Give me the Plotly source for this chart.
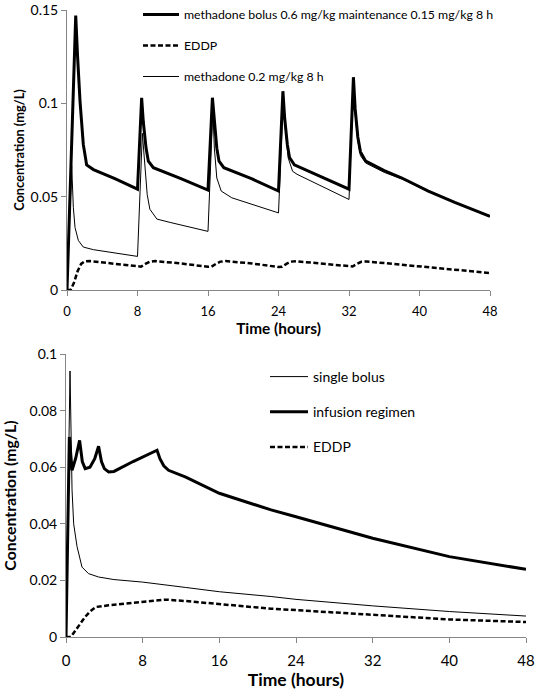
import plotly.graph_objects as go

# ---------- Top panel data (time in hours, concentration in mg/L) ----------
top_bolus_t = [0, 0.99, 1.2, 1.48, 1.85, 2.23, 3.0, 5.5, 8.0,
               8.47, 8.66, 8.97, 9.23, 9.8, 13.0, 16.0,
               16.5, 16.7, 17.0, 17.25, 17.8, 21.0, 24.0,
               24.5, 24.7, 25.0, 25.25, 25.8, 28.8, 32.0,
               32.5, 32.7, 33.0, 33.3, 33.9, 36.0, 38.0, 41.0, 44.0, 48.0]
top_bolus_c = [0, 0.147, 0.125, 0.101, 0.078, 0.067, 0.0645, 0.0595, 0.054,
               0.103, 0.090, 0.076, 0.069, 0.0655, 0.0595, 0.0535,
               0.103, 0.090, 0.076, 0.069, 0.0655, 0.0595, 0.053,
               0.1065, 0.092, 0.078, 0.071, 0.067, 0.0607, 0.054,
               0.114, 0.097, 0.082, 0.074, 0.069, 0.064, 0.060, 0.053, 0.047, 0.0395]

top_eddp_t = [0, 0.4, 0.8, 1.2, 1.6, 2.0, 2.6, 5.0, 8.0,
              8.4, 8.9, 9.4, 10.0, 13.0, 16.0,
              16.4, 16.9, 17.4, 18.0, 21.0, 24.0,
              24.4, 24.9, 25.4, 26.0, 29.0, 32.0,
              32.4, 32.9, 33.4, 34.0, 38.0, 43.0, 48.0]
top_eddp_c = [0, 0, 0.004, 0.010, 0.0140, 0.0153, 0.0155, 0.0143, 0.0124,
              0.0125, 0.0140, 0.0152, 0.0155, 0.0142, 0.0124,
              0.0125, 0.0140, 0.0152, 0.0155, 0.0142, 0.0123,
              0.0125, 0.0140, 0.0152, 0.0154, 0.0141, 0.0124,
              0.0126, 0.0140, 0.0151, 0.0153, 0.0135, 0.0113, 0.0091]

top_maint_t = [0, 0.53, 0.72, 0.91, 1.29, 1.85, 3.0, 8.0,
               8.55, 8.85, 9.1, 9.4, 10.2, 11.7, 16.0,
               16.55, 16.72, 17.0, 17.5, 18.7, 24.0,
               24.55, 24.8, 25.1, 25.6, 26.1, 28.8, 32.0,
               32.5, 32.7, 33.0, 33.3, 33.9, 36.0, 38.0, 41.0, 44.0, 48.0]
top_maint_c = [0, 0.0666, 0.0441, 0.0335, 0.0265, 0.023, 0.0216, 0.018,
               0.0839, 0.0653, 0.0512, 0.0433, 0.038, 0.0362, 0.0314,
               0.097, 0.076, 0.060, 0.053, 0.0494, 0.0413,
               0.104, 0.085, 0.0707, 0.0636, 0.062, 0.0557, 0.0485,
               0.111, 0.094, 0.080, 0.072, 0.068, 0.063, 0.0595, 0.0527, 0.0468, 0.0395]

# ---------- Bottom panel data ----------
bot_single_t = [0, 0.42, 0.63, 0.8, 1.15, 1.67, 2.35, 3.4, 5.0, 8.0, 12.5, 16.0, 21.4, 24.0, 32.0, 40.0, 48.0]
bot_single_c = [0, 0.094, 0.052, 0.040, 0.032, 0.0247, 0.0224, 0.0212, 0.0203, 0.0194, 0.0175, 0.016,
                0.0143, 0.0133, 0.011, 0.009, 0.0074]

bot_infusion_t = [0, 0.35, 0.63, 1.0, 1.42, 1.7, 2.0, 2.5, 3.0, 3.4, 3.7, 4.0, 4.45, 5.0, 7.0, 9.5,
                  9.8, 10.2, 10.7, 12.5, 16.0, 21.4, 24.0, 32.0, 40.0, 48.0]
bot_infusion_c = [0, 0.0707, 0.0589, 0.063, 0.0695, 0.062, 0.0595, 0.060, 0.063, 0.0674, 0.062, 0.0595,
                  0.0583, 0.0585, 0.062, 0.066,
                  0.063, 0.0605, 0.0589, 0.0565, 0.0508, 0.0449, 0.0425, 0.0349, 0.0284, 0.0239]

bot_eddp_t = [0, 0.5, 1.0, 1.5, 2.0, 2.5, 3.1, 4.45, 8.0, 10.4, 12.5, 16.0, 21.4, 24.0, 32.0, 40.0, 48.0]
bot_eddp_c = [0, 0, 0.0024, 0.0048, 0.0071, 0.0090, 0.0106, 0.0112, 0.0124, 0.0132, 0.0127, 0.0116,
              0.0100, 0.0095, 0.0078, 0.0062, 0.0053]

x_ticks = [0, 8, 16, 24, 32, 40, 48]
top_y_ticks = [0, 0.05, 0.1, 0.15]
bot_y_ticks = [0, 0.02, 0.04, 0.06, 0.08, 0.1]

W, H = 540, 694
FONT = "Lato, 'Open Sans', sans-serif"
AX = "#868686"


def fx(px):
    return px / W


def fy(py):
    return 1 - py / H


fig = go.Figure()

thick = dict(color="black", width=3)
thin = dict(color="black", width=1)
dash = dict(color="black", width=2.5, dash="5px,2.5px")

fig.add_trace(go.Scatter(x=top_bolus_t, y=top_bolus_c, mode="lines", line=thick,
                         name="methadone bolus 0.6 mg/kg maintenance 0.15 mg/kg 8 h",
                         legend="legend", legendgroup="a", xaxis="x", yaxis="y"))
fig.add_trace(go.Scatter(x=top_eddp_t, y=top_eddp_c, mode="lines", line=dash, name="EDDP",
                         legend="legend", legendgroup="b", xaxis="x", yaxis="y"))
fig.add_trace(go.Scatter(x=top_maint_t, y=top_maint_c, mode="lines", line=thin,
                         name="methadone 0.2 mg/kg 8 h",
                         legend="legend", legendgroup="c", xaxis="x", yaxis="y"))

fig.add_trace(go.Scatter(x=bot_single_t, y=bot_single_c, mode="lines", line=thin, name="single bolus",
                         legend="legend2", legendgroup="d", xaxis="x2", yaxis="y2"))
fig.add_trace(go.Scatter(x=bot_infusion_t, y=bot_infusion_c, mode="lines", line=thick, name="infusion regimen",
                         legend="legend2", legendgroup="e", xaxis="x2", yaxis="y2"))
fig.add_trace(go.Scatter(x=bot_eddp_t, y=bot_eddp_c, mode="lines", line=dash, name="EDDP",
                         legend="legend2", legendgroup="f", xaxis="x2", yaxis="y2"))


def xa(domain, anchor, tick_size, title_size, lab_off, title_off):
    return dict(domain=domain, anchor=anchor, range=[0, 48], tickvals=x_ticks, automargin=False,
                showline=True, linecolor=AX, linewidth=1, ticks="outside", ticklen=5,
                tickcolor=AX, showgrid=False, zeroline=False, ticklabelstandoff=lab_off,
                tickfont=dict(size=tick_size, color="black", family=FONT),
                title=dict(text="<b>Time (hours)</b>", standoff=title_off,
                           font=dict(size=title_size, color="black", family=FONT)))


def ya(domain, anchor, rng, ticks, title_size, title_off):
    return dict(domain=domain, anchor=anchor, range=rng, tickvals=ticks, automargin=False,
                showline=True, linecolor=AX, linewidth=1, ticks="outside", ticklen=5,
                tickcolor=AX, showgrid=False, zeroline=False, ticksuffix="\u00a0",
                tickfont=dict(size=14, color="black", family=FONT),
                title=dict(text="<b>Concentration (mg/L)</b>", standoff=title_off,
                           font=dict(size=title_size, color="black", family=FONT)))


fig.update_layout(
    width=W, height=H,
    margin=dict(l=0, r=0, t=0, b=0, autoexpand=False),
    paper_bgcolor="white", plot_bgcolor="white",
    font=dict(family=FONT, color="black"),
    xaxis=xa([fx(67), fx(490)], "y", 13, 15.4, 4, 1.5),
    yaxis=ya([fy(290), fy(10)], "x", [0, 0.15], top_y_ticks, 12.8, 3),
    xaxis2=xa([fx(66), fx(526)], "y2", 15, 17.5, 5, 4.5),
    yaxis2=ya([fy(637), fy(354)], "x2", [0, 0.1], bot_y_ticks, 15.8, 15),
    legend=dict(x=fx(138), y=1.0, xanchor="left", yanchor="top",
                font=dict(size=12.3, family=FONT, color="black"),
                bgcolor="rgba(0,0,0,0)", tracegroupgap=12, itemwidth=36),
    legend2=dict(x=fx(265), y=fy(361), xanchor="left", yanchor="top",
                 font=dict(size=14, family=FONT, color="black"),
                 bgcolor="rgba(0,0,0,0)", tracegroupgap=14, itemwidth=38),
    showlegend=True,
)

# remove the browser's default 8px body margin so the figure fills the window
fig.write_html("out.html", config={"displayModeBar": False},
               post_script="document.body.style.margin='0';")
